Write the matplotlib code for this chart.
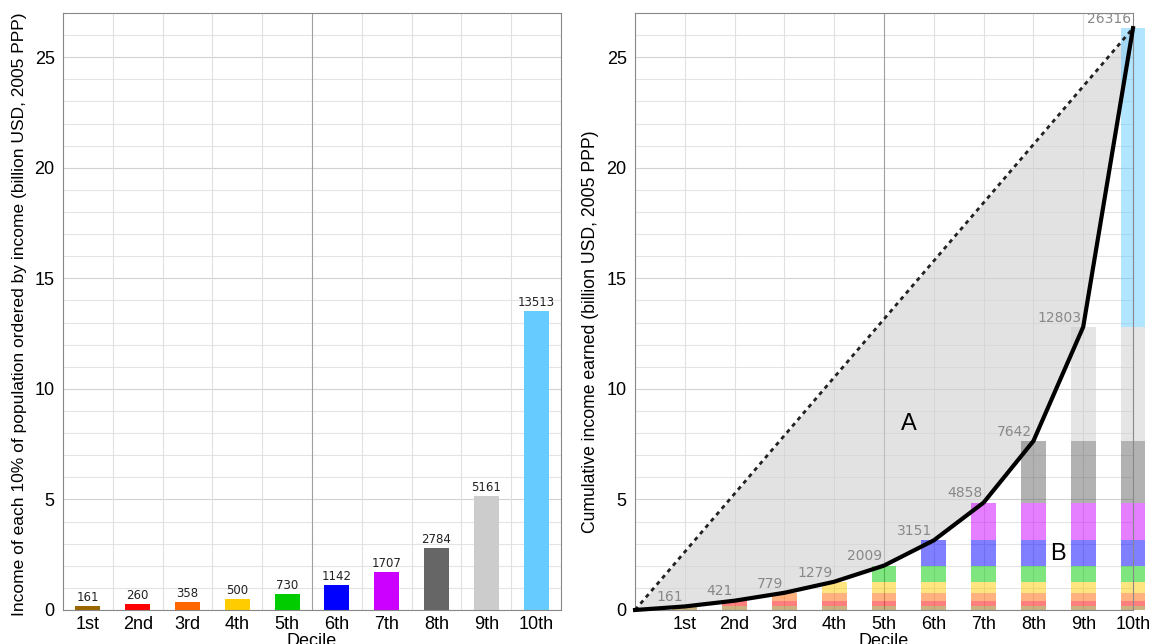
import numpy as np
import matplotlib
matplotlib.use('Agg')
from matplotlib import pyplot as plt

plt.rcParams['font.family'] = ['Liberation Sans', 'DejaVu Sans']

deciles = ['1st', '2nd', '3rd', '4th', '5th', '6th', '7th', '8th', '9th', '10th']
income = [161, 260, 358, 500, 730, 1142, 1707, 2784, 5161, 13513]
colors = ['#996600', '#ff0000', '#ff6600', '#ffcc00', '#00cc00',
          '#0000ff', '#cc00ff', '#666666', '#cccccc', '#66ccff']

income_bn = np.array(income) / 1000.0
cumulative = np.cumsum(income)
cumulative_bn = cumulative / 1000.0
pos = np.arange(1, 11)


def style_axes(ax, xgrid):
    ax.set_ylim(0, 27)
    ax.set_yticks(np.arange(0, 26, 5))
    ax.grid(False)
    for y in range(0, 27):
        ax.axhline(y, color='#e4e4e4' if y % 5 else '#d2d2d2', lw=0.8, zorder=0)
    for x in xgrid:
        c = '#a0a0a0' if x in (5, 5.5) else '#e0e0e0'
        ax.axvline(x, color=c, lw=0.8, zorder=0)
    for s in ax.spines.values():
        s.set_color('#888888')
    ax.tick_params(length=0, labelsize=13, pad=6)
    ax.tick_params(axis='x', pad=4)
    ax.set_xlabel('Decile', fontsize=13, labelpad=0)


fig = plt.figure(figsize=(11.54, 6.44), dpi=100)
ax1 = fig.add_axes([0.0546, 0.0528, 0.4315, 0.927])
ax2 = fig.add_axes([0.5503, 0.0528, 0.4315, 0.927])

# ---------- left: income of each decile ----------
bars = ax1.bar(pos, income_bn, 0.5, color=colors, zorder=2)
for b, v in zip(bars, income):
    ax1.text(b.get_x() + b.get_width() / 2, b.get_height() + 0.1, str(v),
             ha='center', va='bottom', fontsize=8.5, color='#222222',
             family='DejaVu Sans')
ax1.set_xlim(0.5, 10.5)
ax1.set_xticks(pos)
ax1.set_xticklabels(deciles)
style_axes(ax1, np.arange(1.5, 10.5, 1))
ax1.set_ylabel('Income of each 10% of population ordered by income (billion USD, 2005 PPP)',
               fontsize=12.5)
ax1.yaxis.set_label_coords(-0.073, 0.495)

# ---------- right: cumulative income / Lorenz ----------
for i in range(10):
    bottom = 0.0
    for j in range(i + 1):
        ax2.bar(pos[i], income_bn[j], 0.5, bottom=bottom, color=colors[j],
                alpha=0.5, lw=0, zorder=2, clip_on=False)
        bottom += income_bn[j]

xs = np.concatenate([[0], pos])
ys = np.concatenate([[0], cumulative_bn])
equal = xs / 10.0 * cumulative_bn[-1]
ax2.fill_between(xs, ys, equal, color='#d0d0d0', alpha=0.6, lw=0, zorder=1)
ax2.plot(xs, equal, color='#222222', lw=2, ls=(0, (1.5, 1.5)), zorder=3)
ax2.plot(xs, ys, color='black', lw=3, zorder=4, clip_on=False)
for x, y, v in zip(pos, cumulative_bn, cumulative):
    ax2.text(x - 0.03, y + 0.1, str(v), ha='right', va='bottom',
             fontsize=10, color='#888888', zorder=5, family='DejaVu Sans')
ax2.text(5.5, 8.4, 'A', fontsize=17, ha='center', va='center', zorder=5)
ax2.text(8.5, 2.55, 'B', fontsize=17, ha='center', va='center', zorder=5)

ax2.set_xlim(0, 10)
ax2.set_xticks(pos)
ax2.set_xticklabels(deciles)
style_axes(ax2, np.arange(1, 10, 1))
ax2.set_ylabel('Cumulative income earned (billion USD, 2005 PPP)', fontsize=12.7)
ax2.yaxis.set_label_coords(-0.073, 0.467)

fig.savefig('out.png', dpi=100)
